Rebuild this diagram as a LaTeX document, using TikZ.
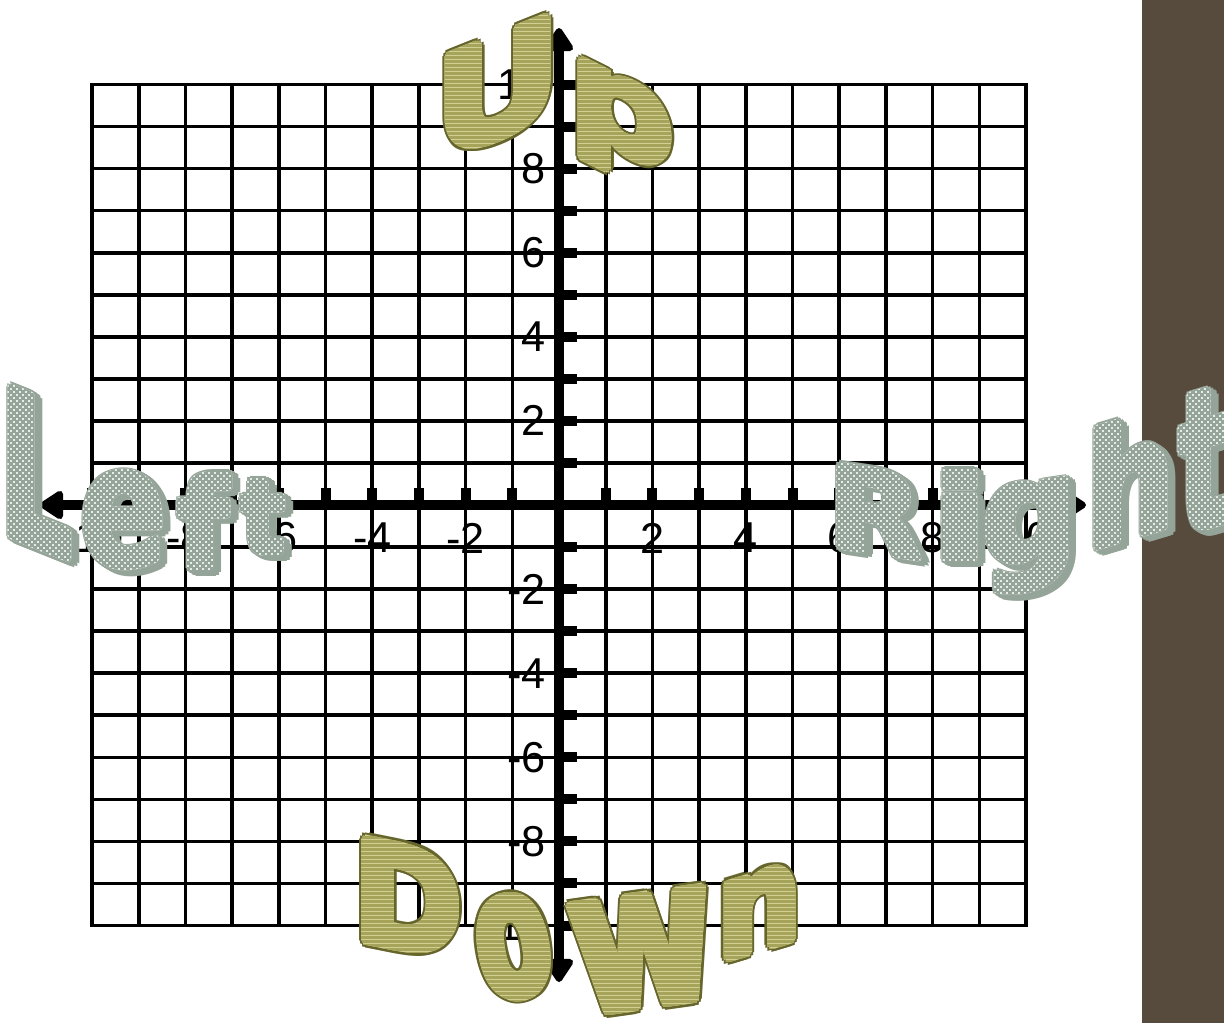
\documentclass[tikz,border=0pt]{standalone}
\usepackage{fontspec}
\setmainfont{Liberation Sans}
\newfontfamily\wafont{DejaVu Sans}
\usetikzlibrary{arrows.meta}
\definecolor{olfill}{HTML}{D2CF93}
\definecolor{olstripe}{HTML}{A6A35B}
\definecolor{olline}{HTML}{66652B}
\definecolor{ggfill}{HTML}{E8ECE8}
\definecolor{ggdark}{HTML}{95A498}
\definecolor{barc}{HTML}{574B3D}
\newlength\upx \setlength\upx{0.5pt}
\newcommand\ink[1]{\mbox{\kern-\XeTeXglyphbounds1 \XeTeXcharglyph`#1\relax#1\kern-\XeTeXglyphbounds3 \XeTeXcharglyph`#1\relax}}
\newcommand\glyphbox[3]{\resizebox*{#1\upx}{#2\upx}{\wafont\bfseries\ink{#3}}}
% olive outlined striped letter: name, x, y, w, h, transform, char
\newcommand\olet[7]{%
  \foreach \a in {0,30,...,330}{\node[wa,text=olline,#6] at ({#2+6.5*cos(\a)},{#3+6.5*sin(\a)}) {\glyphbox{#4}{#5}{#7}};}
  \foreach \a in {0,30,...,330}{\node[wa,text=olfill,#6] at ({#2+4*cos(\a)},{#3+4*sin(\a)}) {\glyphbox{#4}{#5}{#7}};}
  \node[wa,text=olfill,#6] (#1) at (#2,#3) {\glyphbox{#4}{#5}{#7}};
  \begin{scope}
    \clip \foreach \i in {0,...,46}{({#2-100},{4*round(#3/4)-92+4*\i}) rectangle ({#2+100},{4*round(#3/4)-90+4*\i})};
    \foreach \a in {0,30,...,330}{\node[wa,text=olstripe,#6] at ({#2+4*cos(\a)},{#3+4*sin(\a)}) {\glyphbox{#4}{#5}{#7}};}
    \node[wa,text=olstripe,#6] at (#2,#3) {\glyphbox{#4}{#5}{#7}};
  \end{scope}
}
% grey-green checkered letter with extruded shadow
\newcommand\glet[7]{%
  \foreach \t in {0.25,0.5,0.75,1}{\foreach \a in {0,45,...,315}{\node[wa,text=ggdark,#6] at ({#2+6*\t+4.5*cos(\a)},{#3+4*\t+4.5*sin(\a)}) {\glyphbox{#4}{#5}{#7}};}}
  \foreach \a in {0,45,...,315}{\node[wa,text=ggdark,#6] at ({#2+4.5*cos(\a)},{#3+4.5*sin(\a)}) {\glyphbox{#4}{#5}{#7}};}
  \foreach \a in {0,45,...,315}{\node[wa,text=ggfill,#6] at ({#2+3*cos(\a)},{#3+3*sin(\a)}) {\glyphbox{#4}{#5}{#7}};}
  \node[wa,text=ggfill,#6] (#1) at (#2,#3) {\glyphbox{#4}{#5}{#7}};
  \begin{scope}[even odd rule]
    \clip
      \foreach \i in {0,...,36}{({6*round(#2/6)-108},{6*round(#3/6)-108+6*\i}) rectangle ({6*round(#2/6)+108},{6*round(#3/6)-105+6*\i})}
      \foreach \j in {0,...,36}{({6*round(#2/6)-108+6*\j},{6*round(#3/6)-108}) rectangle ({6*round(#2/6)-105+6*\j},{6*round(#3/6)+108})};
    \foreach \a in {0,45,...,315}{\node[wa,text=ggdark,#6] at ({#2+3*cos(\a)},{#3+3*sin(\a)}) {\glyphbox{#4}{#5}{#7}};}
    \node[wa,text=ggdark,#6] at (#2,#3) {\glyphbox{#4}{#5}{#7}};
  \end{scope}
}
\tikzset{
  wa/.style={inner sep=0pt,outer sep=0pt,anchor=center},
  gridline/.style={line width=1.8pt,line cap=rect,black},
  axisline/.style={line width=5pt,black},
  lab/.style={inner sep=0pt,font=\fontsize{21.6}{26}\selectfont,text=black},
}
\begin{document}
\begin{tikzpicture}[x=0.5pt,y=-0.5pt]
\path[use as bounding box,fill=white] (0,0) rectangle (1224,1023);
\fill[barc] (1142,0) rectangle (1224,1023);
% grid
\foreach \k in {-10,...,10}{
  \draw[gridline] ({559+46.7*\k},84.5) -- ({559+46.7*\k},925.5);
  \draw[gridline] (92,{505-42.05*\k}) -- (1026,{505-42.05*\k});
}
% axes
\coordinate (xl) at (40,505);
\coordinate (xr) at (1086,505);
\coordinate (yt) at (559,28);
\coordinate (yb) at (559,982);
\draw[axisline,{Triangle[round,length=13pt,width=16pt]}-{Triangle[round,length=13pt,width=16pt]}] (xl) -- (xr);
\draw[axisline,{Triangle[round,length=13pt,width=16pt]}-{Triangle[round,length=13pt,width=16pt]}] (yt) -- (yb);
% ticks
\foreach \k in {-10,...,-1,1,2,...,10}{
  \fill ({559+46.7*\k-5},488) rectangle ({559+46.7*\k+5},505);
  \fill (559,{505-42.05*\k-5}) rectangle (577,{505-42.05*\k+5});
}
% labels
\foreach \k in {-10,-8,-6,-4,-2,2,4,6,8,10}{
  \node[lab] (xlab\k) at ({559+46.7*\k},538) {\k};
  \node[lab,anchor=east] (ylab\k) at (546,{505-42.05*\k}) {\k};
}
% Up
\olet{U}{498}{88}{98}{102}{yslant=0.4}{U}
\olet{p}{625}{129}{86}{98}{yslant=-0.5}{p}
% Down
\olet{D}{411}{899}{90}{102}{yslant=-0.2}{D}
\olet{o}{514}{947}{64}{102}{rotate=10}{o}
\olet{w}{644}{951}{134}{110}{rotate=8}{w}
\olet{n}{760}{911}{64}{76}{yslant=0.3}{n}
% Left
\glet{L}{40}{473}{58}{150}{yslant=-0.4}{L}
\glet{e}{123}{520}{74}{96}{}{e}
\glet{f}{205}{521}{50}{94}{}{f}
\glet{t1}{263}{517}{40}{72}{}{t}
% Right
\glet{R}{880}{512}{80}{82}{yslant=-0.15}{R}
\glet{i}{960}{515}{30}{88}{}{i}
\glet{g}{1027}{537}{78}{108}{yslant=0.15}{g}
\glet{h}{1131}{478}{68}{120}{yslant=0.3}{h}
\glet{t2}{1204}{460}{46}{137}{yslant=0.3}{t}
\end{tikzpicture}
\end{document}
